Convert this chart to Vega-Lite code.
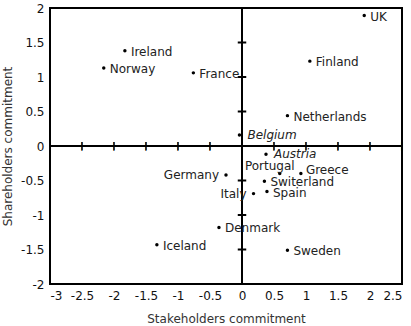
{
  "$schema": "https://vega.github.io/schema/vega-lite/v6.json",
  "width": 352,
  "height": 276,
  "autosize": {"type": "none"},
  "padding": {"left": 50, "top": 8, "right": 9, "bottom": 42},
  "config": {
    "view": {"stroke": "#000", "strokeWidth": 2},
    "font": "DejaVu Sans",
    "axis": {"grid": false, "ticks": false, "domain": false, "labelOverlap": false, "labelExpr": "replace(format(datum.value, '~g'), '\u2212', '-')", "labelFont": "DejaVu Sans", "labelFontSize": 12, "labelColor": "#111", "titleFont": "DejaVu Sans", "titleFontSize": 12, "titleFontWeight": "normal", "titleColor": "#333"}
  },
  "datasets": {
    "countries": [
      {"country": "UK", "stakeholders": 1.91, "shareholders": 1.89},
      {"country": "Ireland", "stakeholders": -1.83, "shareholders": 1.38},
      {"country": "Finland", "stakeholders": 1.06, "shareholders": 1.23},
      {"country": "Norway", "stakeholders": -2.16, "shareholders": 1.13},
      {"country": "France", "stakeholders": -0.76, "shareholders": 1.06},
      {"country": "Netherlands", "stakeholders": 0.71, "shareholders": 0.44},
      {"country": "Belgium", "stakeholders": -0.04, "shareholders": 0.16},
      {"country": "Austria", "stakeholders": 0.375, "shareholders": -0.12},
      {"country": "Germany", "stakeholders": -0.25, "shareholders": -0.42},
      {"country": "Portugal", "stakeholders": 0.59, "shareholders": -0.4},
      {"country": "Greece", "stakeholders": 0.92, "shareholders": -0.4},
      {"country": "Switerland", "stakeholders": 0.35, "shareholders": -0.51},
      {"country": "Italy", "stakeholders": 0.18, "shareholders": -0.69},
      {"country": "Spain", "stakeholders": 0.39, "shareholders": -0.66},
      {"country": "Denmark", "stakeholders": -0.36, "shareholders": -1.18},
      {"country": "Iceland", "stakeholders": -1.33, "shareholders": -1.43},
      {"country": "Sweden", "stakeholders": 0.71, "shareholders": -1.51}
    ],
    "xtickvals": [{"tx": -2.5, "ty": 0}, {"tx": -2, "ty": 0}, {"tx": -1.5, "ty": 0}, {"tx": -1, "ty": 0}, {"tx": -0.5, "ty": 0}, {"tx": 0.5, "ty": 0}, {"tx": 1, "ty": 0}, {"tx": 1.5, "ty": 0}, {"tx": 2, "ty": 0}, {"tx": 2.5, "ty": 0}],
    "ytickvals": [{"tx": 0, "ty": -2}, {"tx": 0, "ty": -1.5}, {"tx": 0, "ty": -1}, {"tx": 0, "ty": -0.5}, {"tx": 0, "ty": 0.5}, {"tx": 0, "ty": 1}, {"tx": 0, "ty": 1.5}, {"tx": 0, "ty": 2}]
  },
  "encoding": {
    "x": {"type": "quantitative", "scale": {"domain": [-3, 2.5], "nice": false}, "axis": {"values": [-3, -2.5, -2, -1.5, -1, -0.5, 0, 0.5, 1, 1.5, 2, 2.5], "labelPadding": 6, "title": "Stakeholders commitment", "titlePadding": 12}},
    "y": {"type": "quantitative", "scale": {"domain": [-2, 2], "nice": false}, "axis": {"values": [-2, -1.5, -1, -0.5, 0, 0.5, 1, 1.5, 2], "labelPadding": 6, "title": "Shareholders commitment", "titlePadding": 6}}
  },
  "layer": [
    {
      "data": {"values": [{"z": 0}]},
      "mark": {"type": "rule", "color": "#000", "strokeWidth": 2},
      "encoding": {
        "x": {"field": "z", "type": "quantitative"},
        "y": null
      }
    },
    {
      "data": {"values": [{"z": 0}]},
      "mark": {"type": "rule", "color": "#000", "strokeWidth": 2},
      "encoding": {
        "y": {"field": "z", "type": "quantitative"},
        "x": null
      }
    },
    {
      "data": {"name": "xtickvals"},
      "mark": {"type": "text", "text": "|", "fontSize": 9, "fontWeight": "bold", "baseline": "middle", "align": "center", "color": "#000", "dy": 0},
      "encoding": {
        "x": {"field": "tx", "type": "quantitative"},
        "y": {"field": "ty", "type": "quantitative"}
      }
    },
    {
      "data": {"name": "xtickvals"},
      "mark": {"type": "point", "shape": "M-0.15,-1L0.15,-1L0.15,1L-0.15,1Z", "filled": true, "size": 64, "color": "#000", "opacity": 1},
      "encoding": {
        "x": {"field": "tx", "type": "quantitative"},
        "y": {"field": "ty", "type": "quantitative"}
      }
    },
    {
      "data": {"name": "ytickvals"},
      "mark": {"type": "point", "shape": "M-1,0L1,0", "filled": false, "size": 72, "stroke": "#000", "strokeWidth": 2, "opacity": 1},
      "encoding": {
        "x": {"field": "tx", "type": "quantitative"},
        "y": {"field": "ty", "type": "quantitative"}
      }
    },
    {
      "data": {"name": "countries"},
      "mark": {"type": "circle", "color": "#000", "opacity": 1, "size": 12},
      "encoding": {
        "x": {"field": "stakeholders", "type": "quantitative"},
        "y": {"field": "shareholders", "type": "quantitative"}
      }
    },
    {
      "data": {"name": "countries"},
      "transform": [{"filter": {"field": "country", "oneOf": ["UK", "Ireland", "Finland", "Norway", "France", "Netherlands", "Switerland", "Spain", "Denmark", "Iceland", "Sweden"]}}],
      "mark": {"type": "text", "align": "left", "baseline": "middle", "dx": 6, "dy": 1, "fontSize": 12, "color": "#222"},
      "encoding": {
        "x": {"field": "stakeholders", "type": "quantitative"},
        "y": {"field": "shareholders", "type": "quantitative"},
        "text": {"field": "country"}
      }
    },
    {
      "data": {"name": "countries"},
      "transform": [{"filter": {"field": "country", "oneOf": ["Greece"]}}],
      "mark": {"type": "text", "align": "left", "baseline": "middle", "dx": 5, "dy": -4, "fontSize": 12, "color": "#222"},
      "encoding": {
        "x": {"field": "stakeholders", "type": "quantitative"},
        "y": {"field": "shareholders", "type": "quantitative"},
        "text": {"field": "country"}
      }
    },
    {
      "data": {"name": "countries"},
      "transform": [{"filter": {"field": "country", "oneOf": ["Belgium", "Austria"]}}],
      "mark": {"type": "text", "align": "left", "baseline": "middle", "dx": 8, "dy": 0, "fontSize": 12, "fontStyle": "italic", "color": "#222"},
      "encoding": {
        "x": {"field": "stakeholders", "type": "quantitative"},
        "y": {"field": "shareholders", "type": "quantitative"},
        "text": {"field": "country"}
      }
    },
    {
      "data": {"name": "countries"},
      "transform": [{"filter": {"field": "country", "oneOf": ["Germany", "Italy"]}}],
      "mark": {"type": "text", "align": "right", "baseline": "middle", "dx": -7, "dy": 0, "fontSize": 12, "color": "#222"},
      "encoding": {
        "x": {"field": "stakeholders", "type": "quantitative"},
        "y": {"field": "shareholders", "type": "quantitative"},
        "text": {"field": "country"}
      }
    },
    {
      "data": {"name": "countries"},
      "transform": [{"filter": {"field": "country", "oneOf": ["Portugal"]}}],
      "mark": {"type": "text", "align": "center", "baseline": "middle", "dx": -10, "dy": -8, "fontSize": 12, "color": "#222"},
      "encoding": {
        "x": {"field": "stakeholders", "type": "quantitative"},
        "y": {"field": "shareholders", "type": "quantitative"},
        "text": {"field": "country"}
      }
    }
  ]
}
